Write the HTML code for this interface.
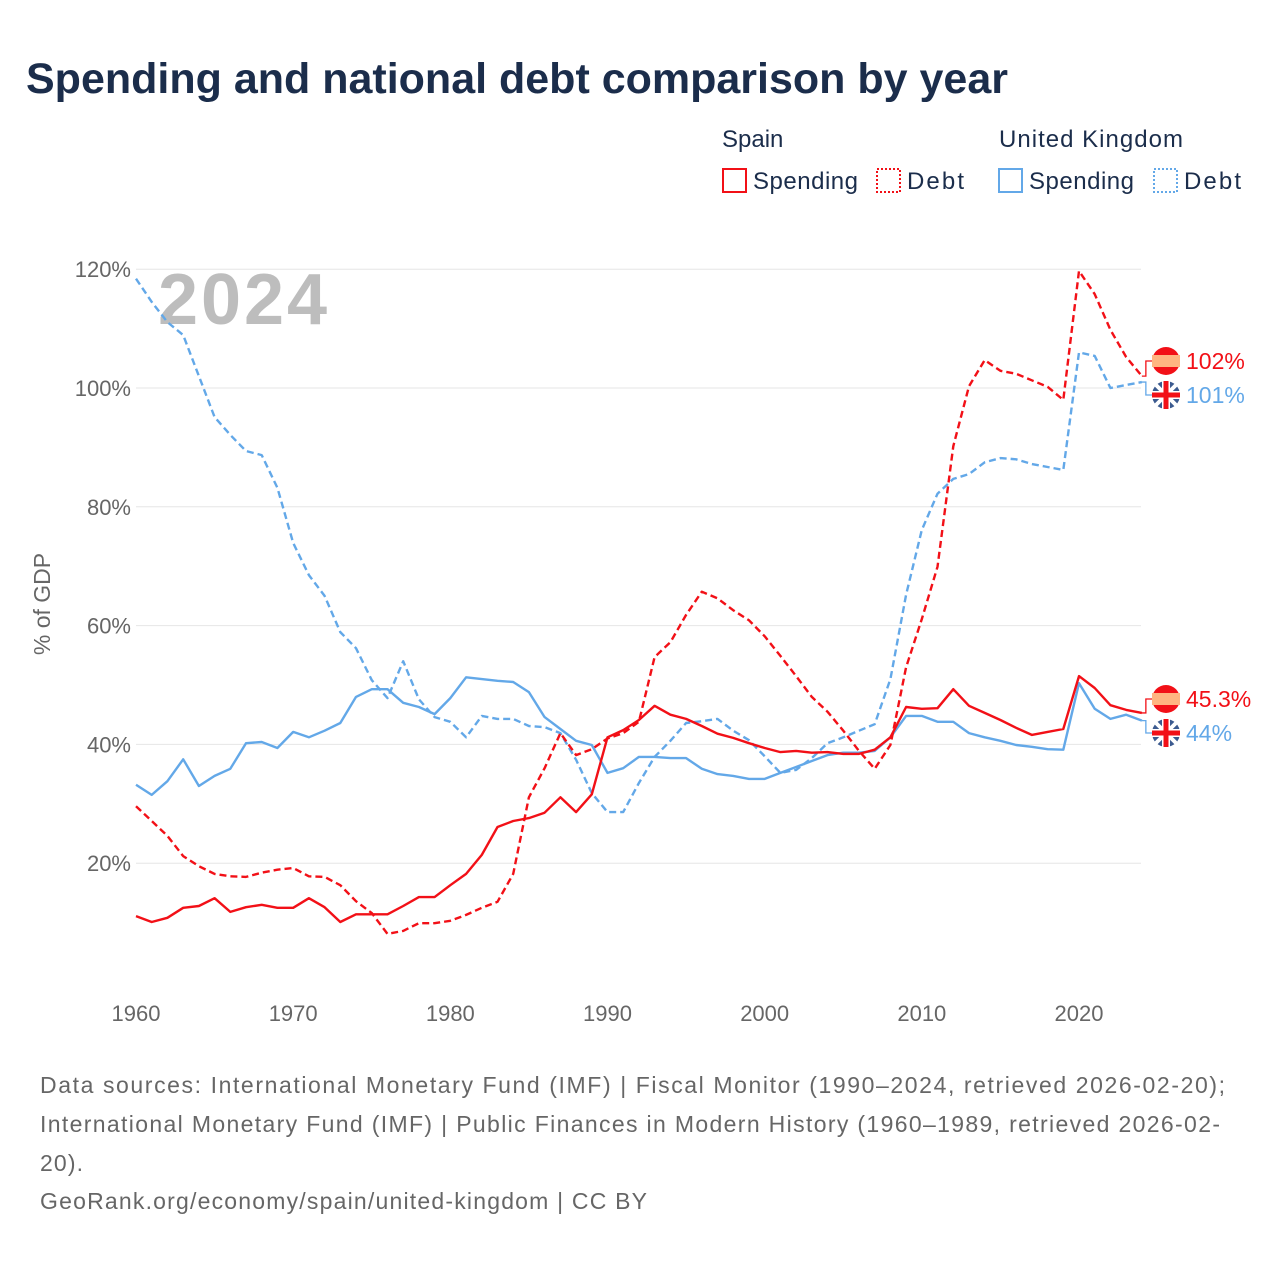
<!DOCTYPE html>
<html><head><meta charset="utf-8"><style>
body{margin:0;background:#fff;width:1280px;height:1280px;overflow:hidden;font-family:"Liberation Sans",sans-serif}
</style></head><body>
<svg width="1280" height="1280" viewBox="0 0 1280 1280" xmlns="http://www.w3.org/2000/svg" font-family="Liberation Sans, sans-serif">
<text x="26" y="93" font-size="43" font-weight="bold" fill="#1b2d4b">Spending and national debt comparison by year</text>
<g font-size="24" fill="#1b2d4b">
<text x="722" y="147">Spain</text>
<text x="999" y="147" textLength="184">United Kingdom</text>
<g><rect x="723" y="169" width="23" height="23" fill="none" stroke="#f21017" stroke-width="2"/><text x="753" y="189" textLength="105">Spending</text></g>
<g><rect x="877" y="169" width="23" height="23" fill="none" stroke="#f21017" stroke-width="2" stroke-dasharray="2,2"/><text x="907" y="189" textLength="57">Debt</text></g>
<g><rect x="999" y="169" width="23" height="23" fill="none" stroke="#63a8e8" stroke-width="2"/><text x="1029" y="189" textLength="105">Spending</text></g>
<g><rect x="1154" y="169" width="23" height="23" fill="none" stroke="#63a8e8" stroke-width="2" stroke-dasharray="2,2"/><text x="1184" y="189" textLength="57">Debt</text></g>
</g>
<g id="grid"></g>
<text x="158" y="324" font-size="72" font-weight="bold" fill="#bdbdbd" textLength="169">2024</text>
<text transform="translate(50,604) rotate(-90)" text-anchor="middle" font-size="23" fill="#666">% of GDP</text>
<g id="series"></g>
<g id="endlabels"></g>
<g font-size="23" fill="#666">
<text x="40" y="1093" textLength="1185">Data sources: International Monetary Fund (IMF) | Fiscal Monitor (1990–2024, retrieved 2026-02-20);</text>
<text x="40" y="1132" textLength="1180">International Monetary Fund (IMF) | Public Finances in Modern History (1960–1989, retrieved 2026-02-</text>
<text x="40" y="1171" textLength="43">20).</text>
<text x="40" y="1209" textLength="607">GeoRank.org/economy/spain/united-kingdom | CC BY</text>
</g>
</svg>
<script>
const years=[];for(let y=1960;y<=2024;y++)years.push(y);
const yTicks=[20,40,60,80,100,120];
const xTicks=[1960,1970,1980,1990,2000,2010,2020];
const spainSpending=[11.1,10.1,10.8,12.5,12.8,14.1,11.8,12.6,13,12.5,12.5,14.1,12.6,10.1,11.4,11.4,11.4,12.8,14.3,14.3,16.3,18.2,21.4,26.1,27.1,27.6,28.5,31.1,28.6,31.6,41.2,42.4,44.1,46.5,45,44.3,43.1,41.8,41.1,40.2,39.4,38.7,38.9,38.6,38.7,38.4,38.4,39.1,41.2,46.3,46,46.1,49.3,46.5,45.3,44.1,42.8,41.6,42.1,42.6,51.5,49.5,46.6,45.8,45.3];
const spainDebt=[29.6,27.1,24.6,21.2,19.5,18.2,17.8,17.7,18.4,18.9,19.2,17.8,17.7,16.3,13.6,11.6,8.1,8.6,9.9,9.9,10.3,11.3,12.5,13.5,18.2,31.1,36,41.9,38.2,39.2,41,41.9,43.8,54.7,57.2,61.8,65.7,64.6,62.6,60.9,58.2,54.9,51.5,48,45.5,42.3,38.9,35.9,39.9,53,61.1,69.9,90.2,100.3,104.7,102.9,102.4,101.3,100.2,98,119.7,115.8,109.8,105.2,102];
const ukSpending=[33.2,31.5,33.8,37.5,33,34.7,35.9,40.2,40.4,39.4,42.1,41.2,42.3,43.6,48,49.3,49.3,47,46.3,45.1,47.8,51.3,51,50.7,50.5,48.8,44.6,42.6,40.6,39.9,35.2,36,37.9,37.9,37.7,37.7,35.9,35,34.7,34.2,34.2,35.2,36.2,37.2,38.2,38.6,38.6,38.9,41.2,44.8,44.8,43.8,43.8,41.9,41.2,40.6,39.9,39.6,39.2,39.1,50.3,46,44.3,45,44];
const ukDebt=[118.4,114.5,111.1,108.9,102,95.1,92.1,89.4,88.7,83.2,73.9,68.5,65,58.9,56.2,50.8,47.8,54,47.6,44.6,43.8,41.2,44.8,44.3,44.3,43.1,42.9,41.9,37.4,31.8,28.6,28.6,33.5,37.9,40.6,43.6,43.9,44.3,42.3,40.7,38,35.2,35.7,37.7,40.2,41.2,42.3,43.4,51,65.2,76.1,82.2,84.7,85.5,87.5,88.2,88,87.2,86.7,86.2,106,105.4,100,100.5,101];
const NS='http://www.w3.org/2000/svg';
const X=y=>136+(y-1960)*(1079-136)/60;
const Y=v=>982-v*5.94;
function mk(t,a,p){const e=document.createElementNS(NS,t);for(const k in a)e.setAttribute(k,a[k]);p.appendChild(e);return e;}
const grid=document.getElementById('grid');
yTicks.forEach(v=>{
 const l=mk('line',{x1:136,x2:1141,y1:Y(v),y2:Y(v),stroke:'#e6e6e6','stroke-width':1},grid);
 
 
 const t=mk('text',{x:131,y:Y(v)+8,'text-anchor':'end','font-size':22,fill:'#666'},grid);t.textContent=v+'%';
 
 
});
xTicks.forEach(v=>{
 const t=mk('text',{x:X(v),y:1021,'text-anchor':'middle','font-size':22,fill:'#666'},grid);t.textContent=v;
 
 
});
const ser=document.getElementById('series');
function line(arr,color,dash,name){
 const d=arr.map((v,i)=>(i?'L':'M')+X(years[i]).toFixed(1)+' '+Y(v).toFixed(1)).join(' ');
 const p=mk('path',{d:d,fill:'none',stroke:color,'stroke-width':2.4,'stroke-linejoin':'round'},ser);
 if(dash)p.setAttribute('stroke-dasharray','7,4');
 
 
}
line(ukDebt,'#63a8e8',true,'uk-debt-line');
line(ukSpending,'#63a8e8',false,'uk-spending-line');
line(spainDebt,'#f21017',true,'spain-debt-line');
line(spainSpending,'#f21017',false,'spain-spending-line');
const el=document.getElementById('endlabels');
function flag(cy,uk){
 const g=mk('g',{},el);
 
 
 const cx=1166;
 if(uk){
  mk('circle',{cx:cx,cy:cy,r:14,fill:'#3b5a8f'},g);
  mk('line',{x1:cx-10,y1:cy-10,x2:cx+10,y2:cy+10,stroke:'#fff','stroke-width':4},g);
  mk('line',{x1:cx+10,y1:cy-10,x2:cx-10,y2:cy+10,stroke:'#fff','stroke-width':4},g);
  mk('rect',{x:cx-14,y:cy-4,width:28,height:8,fill:'#fff'},g);
  mk('rect',{x:cx-4,y:cy-14,width:8,height:28,fill:'#fff'},g);
  mk('rect',{x:cx-14,y:cy-2.5,width:28,height:5,fill:'#f21017'},g);
  mk('rect',{x:cx-2.5,y:cy-14,width:5,height:28,fill:'#f21017'},g);
 }else{
  mk('circle',{cx:cx,cy:cy,r:14,fill:'#f21017'},g);
  mk('rect',{x:cx-14,y:cy-6,width:28,height:12,fill:'#ffb581'},g);
 }
}
function endLabel(val,fy,color,txt,uk){
 const x0=X(2024),y0=Y(val);
 const c=mk('path',{d:`M${x0} ${y0} L${x0+4} ${y0} L${x0+4} ${fy} L1152 ${fy}`,fill:'none',stroke:color,'stroke-width':1.3},el);
 
 
 flag(fy,uk);
 const t=mk('text',{x:1186,y:fy+8,'font-size':23,fill:color},el);t.textContent=txt;
 
 
}
endLabel(spainDebt[64],361,'#f21017','102%',false);
endLabel(ukDebt[64],395,'#63a8e8','101%',true);
endLabel(spainSpending[64],699,'#f21017','45.3%',false);
endLabel(ukSpending[64],733,'#63a8e8','44%',true);
</script>
</body></html>
